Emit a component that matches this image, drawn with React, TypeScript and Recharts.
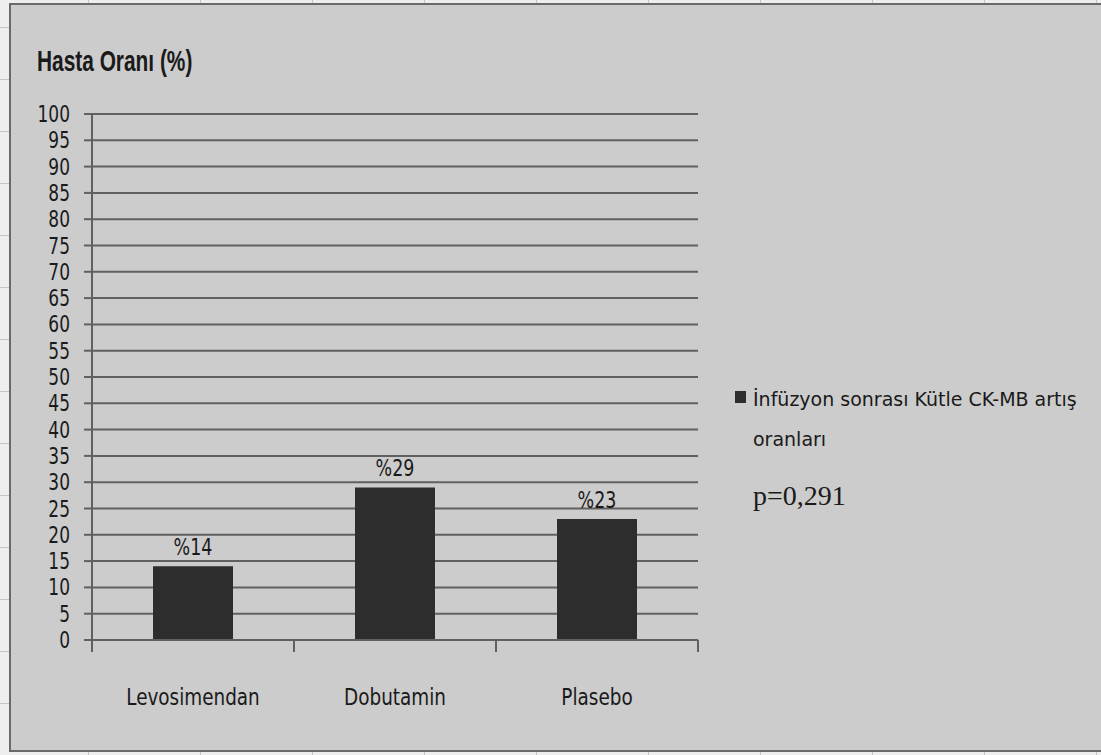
import React from 'react';
import { BarChart, Bar, XAxis, YAxis, CartesianGrid, LabelList, Legend } from 'recharts';

// Groups and the share of patients with a post-infusion CK-MB mass rise (%)
const categories: string[] = ['Levosimendan', 'Dobutamin', 'Plasebo'];
const riseRates: number[] = [14, 29, 23];
const yTicks: number[] = [0, 5, 10, 15, 20, 25, 30, 35, 40, 45, 50, 55, 60, 65, 70, 75, 80, 85, 90, 95, 100];
const axisTitle = 'Hasta Oranı (%)';
const legendLines: string[] = ['İnfüzyon sonrası Kütle CK-MB artış', 'oranları'];
const pValueText = 'p=0,291';

const data = categories.map((name, i) => ({ name, value: riseRates[i] }));

const W = 1101;
const H = 755;
const INK = '#1a1a1a';
const BAR = '#2d2d2d';
const RULE = '#606060';
const SANS = '"DejaVu Sans", Verdana, sans-serif';

// Text squeezed horizontally so glyphs come out tall and narrow
function NarrowText(props: {
  x: number; y: number; scale: number; size: number; anchor?: 'start' | 'middle' | 'end';
  family?: string; weight?: number | string; children: React.ReactNode;
}) {
  const { x, y, scale, size, anchor = 'start', family = SANS, weight = 400, children } = props;
  return (
    <g transform={`translate(${x},${y}) scale(${scale},1)`}>
      <text x={0} y={0} textAnchor={anchor} fontSize={size} fontFamily={family} fontWeight={weight} fill={INK}>
        {children}
      </text>
    </g>
  );
}

function YTick(props: any) {
  const { x, y, payload } = props;
  return (
    <NarrowText x={x} y={y + 8} scale={0.74} size={23} anchor="end">
      {payload.value}
    </NarrowText>
  );
}

// Category label at the band centre, plus tick marks on the band boundaries
function XTick(props: any) {
  const { x, y, payload, index, visibleTicksCount } = props;
  const half = payload.offset ?? 0;
  const top = y - 8;
  return (
    <g>
      <line x1={x - half} x2={x - half} y1={top} y2={top + 12} stroke={RULE} strokeWidth={2} />
      {index === visibleTicksCount - 1 && (
        <line x1={x + half} x2={x + half} y1={top} y2={top + 12} stroke={RULE} strokeWidth={2} />
      )}
      <NarrowText x={x} y={top + 65} scale={0.8} size={23} anchor="middle">
        {payload.value}
      </NarrowText>
    </g>
  );
}

function ValueLabel(props: any) {
  const { x, y, width, value } = props;
  return (
    <NarrowText x={x + width / 2} y={y - 11} scale={0.76} size={23} anchor="middle">
      {`%${value}`}
    </NarrowText>
  );
}

function LegendBox() {
  return (
    <svg width={368} height={140} style={{ display: 'block', overflow: 'visible' }}>
      <rect x={2} y={11} width={11} height={12} fill={BAR} />
      {legendLines.map((line, i) => (
        <text key={line} x={20} y={26 + i * 40} fontSize={19} fontFamily={SANS} fill={INK}>
          {line}
        </text>
      ))}
      <text x={20} y={125} fontSize={28} fontFamily='"Liberation Serif", "Times New Roman", serif' fill={INK}>
        {pValueText}
      </text>
    </svg>
  );
}

export default function App() {
  return (
    <div
      style={{
        position: 'absolute',
        left: 0,
        top: 0,
        width: W,
        height: H,
        overflow: 'hidden',
        background: '#eeeeee',
        backgroundImage:
          'repeating-linear-gradient(90deg, transparent 0 88px, #c4c4c4 88px 89px, transparent 89px 112px), repeating-linear-gradient(0deg, transparent 0 51px, #c4c4c4 51px 52px)',
      }}
    >
      <div
        style={{
          position: 'absolute',
          left: 9,
          top: 3,
          width: W,
          height: 749,
          boxSizing: 'border-box',
          border: '2px solid #6a6a6a',
          borderRight: 'none',
          background: '#cccccc',
        }}
      />
      <div style={{ position: 'absolute', left: 0, top: 0 }}>
        <BarChart
          width={W}
          height={H}
          data={data}
          margin={{ top: 114, right: 403, bottom: 55, left: 0 }}
        >
          <CartesianGrid horizontal vertical={false} stroke={RULE} strokeWidth={2} />
          <XAxis
            dataKey="name"
            height={60}
            axisLine={{ stroke: RULE, strokeWidth: 2 }}
            tickLine={false}
            tick={<XTick />}
            interval={0}
          />
          <YAxis
            width={92}
            domain={[0, 100]}
            ticks={yTicks}
            interval={0}
            axisLine={{ stroke: RULE, strokeWidth: 2 }}
            tickLine={{ stroke: RULE, strokeWidth: 2 }}
            tickSize={8}
            tickMargin={14}
            tick={<YTick />}
          />
          <Legend
            layout="horizontal"
            verticalAlign="middle"
            align="center"
            wrapperStyle={{ position: 'absolute', left: 733, top: 380, width: 368, height: 140 }}
            content={() => <LegendBox />}
          />
          <Bar dataKey="value" name={legendLines.join(' ')} fill={BAR} barSize={80} isAnimationActive={false}>
            <LabelList dataKey="value" content={<ValueLabel />} />
          </Bar>
        </BarChart>
      </div>
      <svg width={W} height={120} style={{ position: 'absolute', left: 0, top: 0, pointerEvents: 'none' }}>
        <NarrowText x={37} y={71} scale={0.72} size={29} weight={700} family='"Liberation Sans", Arial, sans-serif'>
          {axisTitle}
        </NarrowText>
      </svg>
    </div>
  );
}
